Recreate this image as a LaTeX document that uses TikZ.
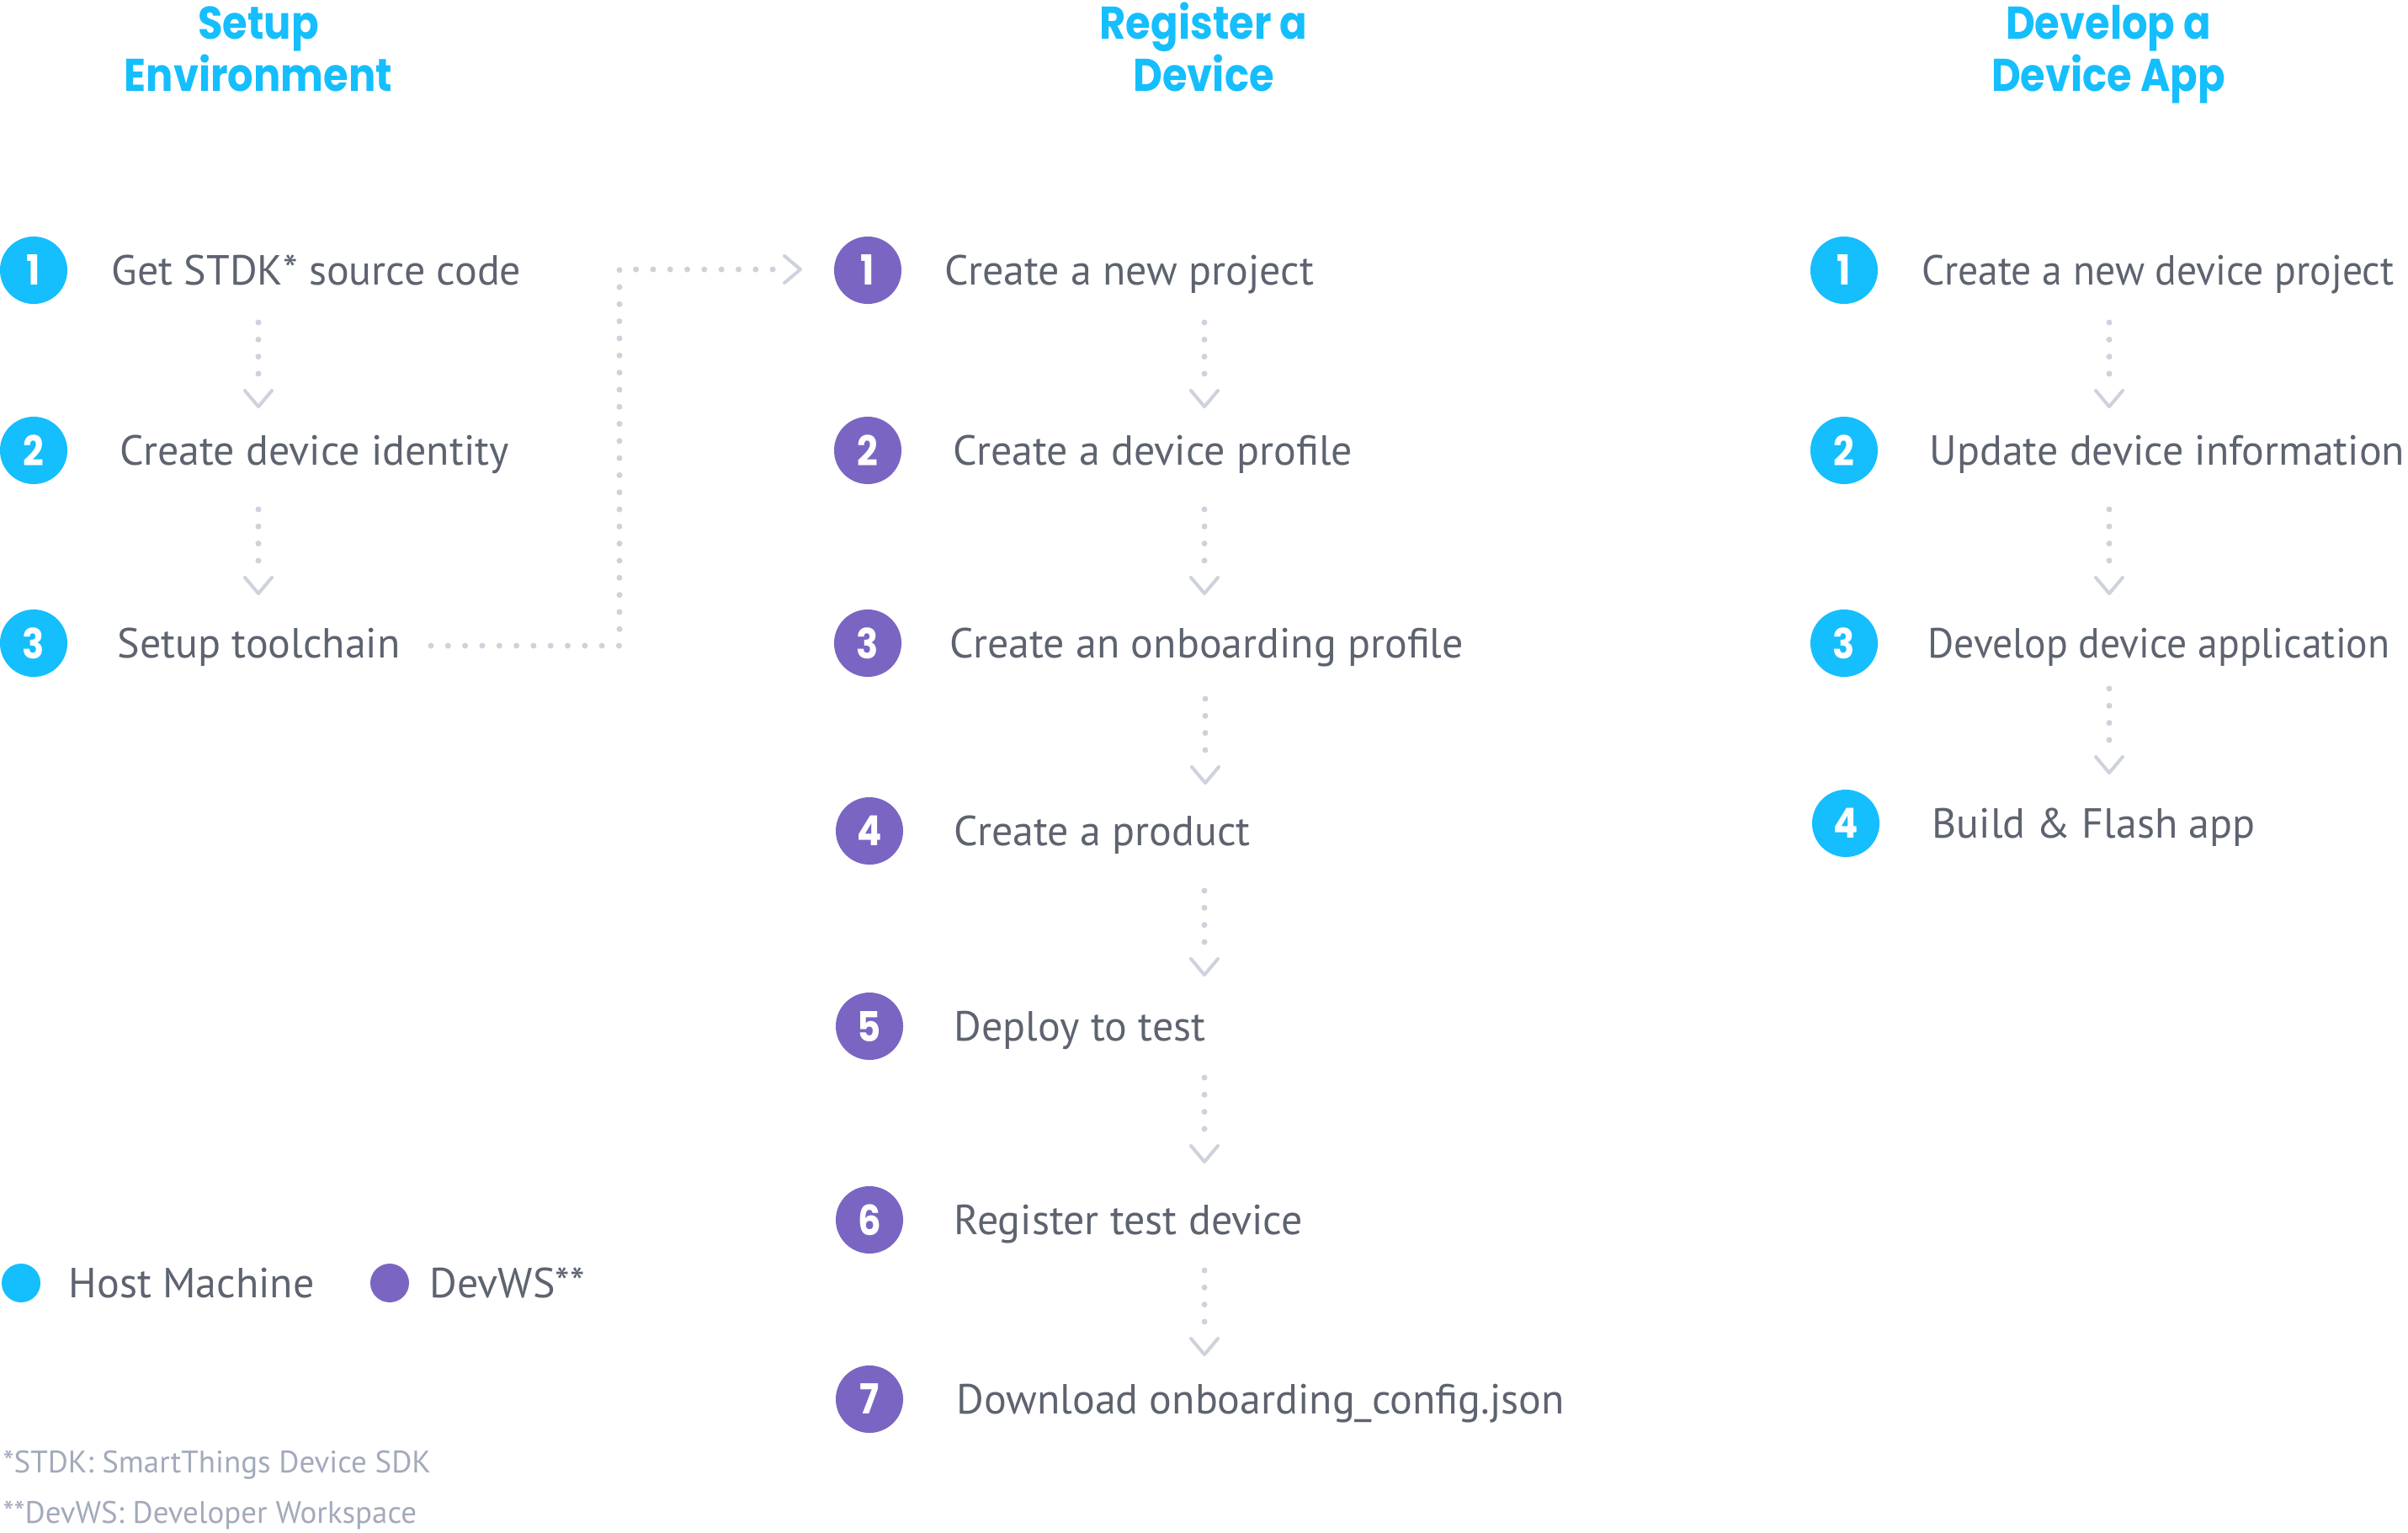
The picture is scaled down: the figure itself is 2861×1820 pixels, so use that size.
\documentclass[tikz,border=0pt]{standalone}
\usepackage{fontspec}
\setmainfont{PT Sans}
\newfontfamily\condfont{PT Sans}[FakeStretch=0.955]
\newfontfamily\headfont{Poppins}[FakeStretch=0.88]
\usetikzlibrary{calc}
\definecolor{hostc}{HTML}{15BEFD}
\definecolor{devc}{HTML}{7A66C2}
\definecolor{txtc}{HTML}{5D636F}
\definecolor{notec}{HTML}{A2AABB}
\definecolor{dotc}{HTML}{CDD2DC}
\tikzset{
  stepnum/.style={circle, minimum size=0.8cm, inner sep=0pt, text=white,
    font=\headfont\bfseries\fontsize{14}{14}\selectfont},
  hostnum/.style={stepnum, fill=hostc},
  devnum/.style={stepnum, fill=devc},
  steplabel/.style={anchor=base west, text=txtc, inner sep=0pt,
    font=\fontsize{14.2}{16}\selectfont},
  condlabel/.style={steplabel, font=\condfont\fontsize{14.2}{16}\selectfont},
  headtxt/.style={anchor=base, text=hostc, inner sep=0pt,
    font=\headfont\bfseries\fontsize{15.5}{18}\selectfont},
  legdot/.style={circle, minimum size=0.46cm, inner sep=0pt},
  notetxt/.style={anchor=base west, text=notec, inner sep=0pt,
    font=\fontsize{10.5}{12}\selectfont},
  dotline/.style={draw=dotc, line width=0.07cm, line cap=round,
    dash pattern=on 0pt off 0.203cm},
  chev/.style={draw=dotc, line width=0.04cm, line cap=round, line join=round}
}
\newcommand\flowdown[3]{%
  \coordinate (#1s) at (#2,#3);
  \coordinate (#1e) at (#2,#3+100);
  \draw[dotline] (#1s) -- ($(#1e)+(0,-20)$);
  \draw[chev] ($(#1e)+(-16,-19)$) -- (#1e) -- ($(#1e)+(16,-19)$);
}
\begin{document}
\begin{tikzpicture}[x=0.01cm, y=-0.01cm]
\useasboundingbox (0,0) rectangle (2861,1820);

% headers
\node[headtxt] (h1a) at (307,46) {Setup};
\node[headtxt] (h1b) at (307,108) {Environment};
\node[headtxt] (h2a) at (1430,46) {Register a};
\node[headtxt] (h2b) at (1430,108) {Device};
\node[headtxt] (h3a) at (2505,46) {Develop a};
\node[headtxt] (h3b) at (2505,108) {Device App};

% column 1
\node[hostnum] (a1) at (40,321) {1};
\node[hostnum] (a2) at (40,535) {2};
\node[hostnum] (a3) at (40,764) {3};
\node[steplabel] (la1) at (132,338) {Get STDK* source code};
\node[steplabel] (la2) at (142,552) {Create device identity};
\node[steplabel] (la3) at (139,781) {Setup toolchain};
\flowdown{fa1}{307}{383}
\flowdown{fa2}{307}{605}

% column 2
\node[devnum] (b1) at (1031,321) {1};
\node[devnum] (b2) at (1031,535) {2};
\node[devnum] (b3) at (1031,764) {3};
\node[devnum] (b4) at (1033,987) {4};
\node[devnum] (b5) at (1033,1219) {5};
\node[devnum] (b6) at (1033,1449) {6};
\node[devnum] (b7) at (1033,1662) {7};
\node[steplabel] (lb1) at (1122,338) {Create a new project};
\node[steplabel] (lb2) at (1132,552) {Create a device profile};
\node[steplabel] (lb3) at (1128,781) {Create an onboarding profile};
\node[steplabel] (lb4) at (1133,1004) {Create a product};
\node[steplabel] (lb5) at (1133,1236) {Deploy to test};
\node[steplabel] (lb6) at (1133,1466) {Register test device};
\node[steplabel] (lb7) at (1136,1679) {Download onboarding\_config.json};
\flowdown{fb1}{1431}{383}
\flowdown{fb2}{1431}{605}
\flowdown{fb3}{1432}{830}
\flowdown{fb4}{1431}{1058}
\flowdown{fb5}{1431}{1280}
\flowdown{fb6}{1431}{1509}

% column 3
\node[hostnum] (c1) at (2191,321) {1};
\node[hostnum] (c2) at (2191,535) {2};
\node[hostnum] (c3) at (2191,764) {3};
\node[hostnum] (c4) at (2193,978) {4};
\node[condlabel] (lc1) at (2283,338) {Create a new device project};
\node[steplabel] (lc2) at (2292,552) {Update device information};
\node[condlabel] (lc3) at (2290,781) {Develop device application};
\node[steplabel] (lc4) at (2295,995) {Build \& Flash app};
\flowdown{fc1}{2506}{383}
\flowdown{fc2}{2506}{605}
\flowdown{fc3}{2506}{818}

% link from column 1 to column 2
\coordinate (ls) at (512,767);
\coordinate (lk) at (736,320);
\coordinate (le) at (951,320);
\draw[dotline] (ls) -| (lk) -- ($(le)+(-25,0)$);
\draw[chev] ($(le)+(-19,-16)$) -- (le) -- ($(le)+(-19,16)$);

% legend
\node[legdot, fill=hostc] (k1) at (25,1524) {};
\node[steplabel] (lk1) at (81,1541) {Host Machine};
\node[legdot, fill=devc] (k2) at (463,1524) {};
\node[steplabel] (lk2) at (510,1541) {DevWS**};

% footnotes
\node[notetxt] (n1) at (3,1749) {*STDK: SmartThings Device SDK};
\node[notetxt] (n2) at (3,1809) {**DevWS: Developer Workspace};
\end{tikzpicture}
\end{document}
